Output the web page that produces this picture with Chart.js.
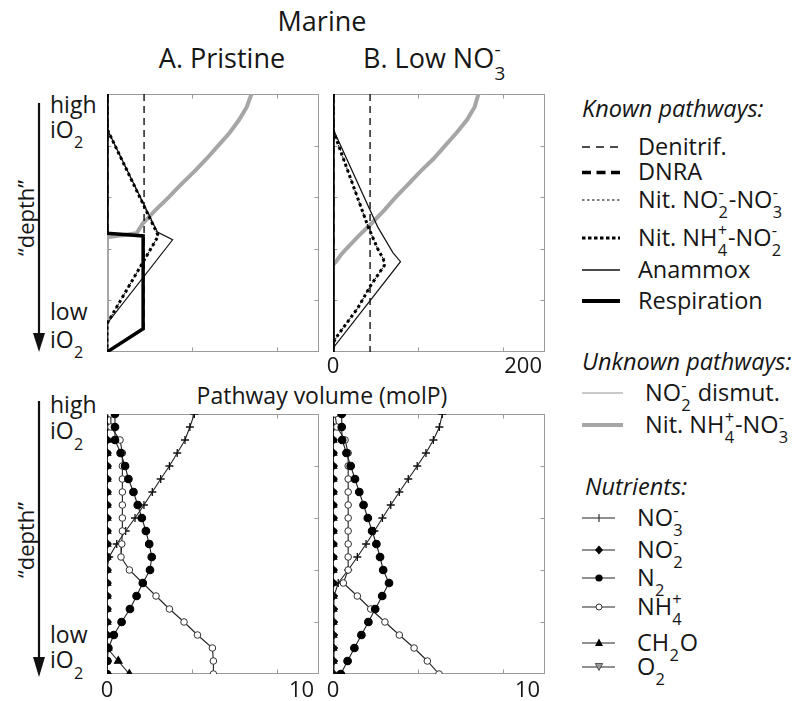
<!DOCTYPE html>
<html>
<head>
<meta charset="utf-8">
<title>Marine</title>
<script src="https://cdn.jsdelivr.net/npm/chart.js@4.4.1/dist/chart.umd.min.js"></script>
<style>
  html, body { margin: 0; padding: 0; background: #fff; }
  body { position: relative; width: 803px; height: 701px; overflow: hidden;
         font-family: "Open Sans", "DejaVu Sans", sans-serif; color: #161616; }
  .t { position: absolute; white-space: nowrap; line-height: 1; }
  .lg { font-size: 23.5px; }
  .hd { font-size: 23.5px; font-style: italic; }
  .ax { font-size: 23px; left: 50px; }
  .c { position: relative; display: inline-block; width: 0.45em; }
  .c i { position: absolute; left: 0.02em; font-style: normal; font-size: 0.7em; line-height: 1; }
  .c i.p { top: -1.45em; }
  .c i.b { top: -0.2em; }
  canvas { position: absolute; }
  svg { position: absolute; left: 0; top: 0; }
</style>
</head>
<body>

<svg width="803" height="701">
  <!-- depth arrows -->
  <line x1="39" y1="103" x2="39" y2="336" stroke="#111" stroke-width="2.2"/>
  <polygon points="33,333 45,333 39,352" fill="#111"/>
  <line x1="39" y1="401" x2="39" y2="660" stroke="#111" stroke-width="2.2"/>
  <polygon points="33,657 45,657 39,677" fill="#111"/>

  <!-- legend samples: known pathways -->
  <line x1="582" y1="147" x2="620" y2="147" stroke="#111" stroke-width="1.4" stroke-dasharray="8 6"/>
  <line x1="582" y1="172.5" x2="620" y2="172.5" stroke="#000" stroke-width="3.5" stroke-dasharray="9 5.5"/>
  <line x1="582" y1="200" x2="620" y2="200" stroke="#000" stroke-width="1" stroke-dasharray="2.5 2.5"/>
  <line x1="582" y1="238" x2="620" y2="238" stroke="#000" stroke-width="3" stroke-dasharray="3.5 2.5"/>
  <line x1="582" y1="270" x2="620" y2="270" stroke="#111" stroke-width="1.3"/>
  <line x1="582" y1="301" x2="620" y2="301" stroke="#000" stroke-width="4"/>
  <!-- unknown pathways -->
  <line x1="582" y1="393" x2="623" y2="393" stroke="#b8b8b8" stroke-width="1.4"/>
  <line x1="582" y1="425" x2="623" y2="425" stroke="#a6a6a6" stroke-width="4"/>
  <!-- nutrients -->
  <g stroke="#222" stroke-width="1.1">
    <line x1="582" y1="518" x2="615" y2="518"/>
    <line x1="599" y1="514" x2="599" y2="522"/>
    <line x1="582" y1="550" x2="615" y2="550"/>
    <line x1="582" y1="578" x2="615" y2="578"/>
    <line x1="582" y1="607" x2="615" y2="607"/>
    <line x1="582" y1="643" x2="615" y2="643"/>
    <line x1="582" y1="667" x2="615" y2="667"/>
  </g>
  <polygon points="599,545.5 603,550 599,554.5 595,550" fill="#000"/>
  <circle cx="599" cy="578" r="3.6" fill="#000"/>
  <circle cx="599" cy="607" r="3" fill="#fff" stroke="#333" stroke-width="1"/>
  <polygon points="599,638.5 603,646 595,646" fill="#000"/>
  <polygon points="595.3,663.5 602.7,663.5 599,670.5" fill="#9a9a9a" stroke="#333" stroke-width="0.8"/>
</svg>

<!-- titles -->
<div class="t" style="left:322px;top:7px;font-size:27px;transform:translateX(-50%)">Marine</div>
<div class="t" style="left:222px;top:43.5px;font-size:27px;transform:translateX(-50%)">A. Pristine</div>
<div class="t" style="left:363px;top:43.5px;font-size:27px">B. Low NO<span class="c"><i class="p">-</i><i class="b">3</i></span></div>
<div class="t" style="left:322px;top:384px;font-size:23px;transform:translateX(-50%)">Pathway volume (molP)</div>

<!-- depth annotations -->
<div class="t ax" style="top:92.6px">high</div>
<div class="t ax" style="top:117.6px">iO<span class="c"><i class="b">2</i></span></div>
<div class="t ax" style="top:299.6px">low</div>
<div class="t ax" style="top:327.6px">iO<span class="c"><i class="b">2</i></span></div>
<div class="t" style="left:25px;top:218px;font-size:22px;transform:translate(-50%,-50%) rotate(-90deg)">&ldquo;depth&rdquo;</div>

<div class="t ax" style="top:393px">high</div>
<div class="t ax" style="top:419px">iO<span class="c"><i class="b">2</i></span></div>
<div class="t ax" style="top:623px">low</div>
<div class="t ax" style="top:648px">iO<span class="c"><i class="b">2</i></span></div>
<div class="t" style="left:25px;top:540px;font-size:22px;transform:translate(-50%,-50%) rotate(-90deg)">&ldquo;depth&rdquo;</div>

<!-- legend text -->
<div class="t hd" style="left:582px;top:96.5px">Known pathways:</div>
<div class="t lg" style="left:638px;top:134.5px">Denitrif.</div>
<div class="t lg" style="left:638px;top:160px">DNRA</div>
<div class="t lg" style="left:638px;top:187.5px">Nit. NO<span class="c"><i class="p">-</i><i class="b">2</i></span>-NO<span class="c"><i class="p">-</i><i class="b">3</i></span></div>
<div class="t lg" style="left:638px;top:225.5px">Nit. NH<span class="c"><i class="p">+</i><i class="b">4</i></span>-NO<span class="c"><i class="p">-</i><i class="b">2</i></span></div>
<div class="t lg" style="left:638px;top:257.5px">Anammox</div>
<div class="t lg" style="left:638px;top:288.5px">Respiration</div>

<div class="t hd" style="left:582px;top:349.5px">Unknown pathways:</div>
<div class="t lg" style="left:645px;top:380.5px">NO<span class="c"><i class="p">-</i><i class="b">2</i></span> dismut.</div>
<div class="t lg" style="left:645px;top:412.5px">Nit. NH<span class="c"><i class="p">+</i><i class="b">4</i></span>-NO<span class="c"><i class="p">-</i><i class="b">3</i></span></div>

<div class="t hd" style="left:585px;top:474.5px">Nutrients:</div>
<div class="t lg" style="left:637px;top:505.5px">NO<span class="c"><i class="p">-</i><i class="b">3</i></span></div>
<div class="t lg" style="left:637px;top:537.5px">NO<span class="c"><i class="p">-</i><i class="b">2</i></span></div>
<div class="t lg" style="left:637px;top:565.5px">N<span class="c"><i class="b">2</i></span></div>
<div class="t lg" style="left:637px;top:594.5px">NH<span class="c"><i class="p">+</i><i class="b">4</i></span></div>
<div class="t lg" style="left:637px;top:630.5px">CH<span class="c"><i class="b">2</i></span>O</div>
<div class="t lg" style="left:637px;top:654.5px">O<span class="c"><i class="b">2</i></span></div>

<canvas id="pA"></canvas>
<canvas id="pB"></canvas>
<canvas id="nA"></canvas>
<canvas id="nB"></canvas>

<script>
// ---- depth axis (0 = high iO2, 20 = low iO2) ----
const depthLevels = [0,1,2,3,4,5,6,7,8,9,10,11,12,13,14,15,16,17,18,19,20];
const depthTicks = [4, 8, 12, 16];

// ---- x-axis tick labels ----
const pathwayTickVals = [0, 200];
const pathwayTickText = ['0', '200'];
const nutrientTickVals = [0, 10];
const nutrientTickText = ['0', '10'];

// ---- A. Pristine: pathway volume profiles (volume, depth) ----
const aRespVol = [0, 0, 38, 38, 0];
const aRespDepth = [0, 10.8, 11.0, 18.2, 20];
const aNitNH4NO2Vol = [0, 0, 54, 0, 0];
const aNitNH4NO2Depth = [0, 2.7, 11, 17.8, 20];
const aNitNO2NO3Vol = [0, 0, 54, 0, 0];
const aNitNO2NO3Depth = [0, 2.7, 11, 17.8, 20];
const aAnammoxVol = [0, 0, 53, 69, 0, 0];
const aAnammoxDepth = [0, 2.7, 10.7, 11.3, 17.8, 20];
const aDenitrifVol = [39, 39, 0];
const aDenitrifDepth = [0, 18.2, 20];
const aNitNH4NO3Vol = [152, 147, 139, 129, 117, 105, 92, 78, 65, 51, 38, 31, 0, 0];
const aNitNH4NO3Depth = [0, 1, 2, 3, 4, 5, 6, 7, 8, 9, 10, 10.8, 11.1, 20];
const aDismutVol = [0, 0];
const aDismutDepth = [0, 20];
const aDNRAVol = [0, 0];
const aDNRADepth = [0, 20];

// ---- B. Low NO3-: pathway volume profiles ----
const bRespVol = [0, 0];
const bRespDepth = [0, 20];
const bNitNH4NO2Vol = [0, 0, 37, 47, 53, 54, 40, 26, 5, 0, 0];
const bNitNH4NO2Depth = [0, 2.8, 10.3, 12, 12.8, 13.3, 14.8, 16.6, 18.7, 19.3, 20];
const bNitNO2NO3Vol = [0, 0, 37, 47, 53, 54, 40, 26, 5, 0, 0];
const bNitNO2NO3Depth = [0, 2.8, 10.3, 12, 12.8, 13.3, 14.8, 16.6, 18.7, 19.3, 20];
const bAnammoxVol = [0, 0, 47, 63, 71, 0, 0];
const bAnammoxDepth = [0, 2.7, 10.3, 12.3, 13, 19.7, 20];
const bDenitrifVol = [39, 39];
const bDenitrifDepth = [0, 20];
const bNitNH4NO3Vol = [153, 149, 141, 130, 118, 106, 92, 79, 66, 54, 41, 27, 14, 8, 3, 0, 0];
const bNitNH4NO3Depth = [0, 1, 2, 3, 4, 5, 6, 7, 8, 9, 10, 11, 12, 12.5, 13, 13.25, 20];
const bDismutVol = [0, 0];
const bDismutDepth = [0, 20];
const bDNRAVol = [0, 0];
const bDNRADepth = [0, 20];

// ---- nutrient profiles at each depth level ----
const aNO3  = [4.49, 4.26, 4.01, 3.61, 3.21, 2.76, 2.33, 1.90, 1.44, 0.96, 0.50, 0.11, 0, 0, 0, 0, 0, 0, 0, 0, 0];
const aNO2  = [0, 0, 0, 0, 0, 0, 0, 0, 0, 0, 0, 0, 0, 0, 0, 0, 0, 0, 0, 0, 0];
const aN2   = [0.41, 0.41, 0.41, 0.70, 0.93, 1.10, 1.36, 1.58, 1.79, 2.00, 2.17, 2.30, 2.21, 1.84, 1.52, 1.18, 0.75, 0.35, 0.07, 0.02, 0];
const aNH4  = [0.20, 0.20, 0.67, 0.79, 0.79, 0.79, 0.79, 0.79, 0.79, 0.79, 0.76, 0.72, 1.15, 1.84, 2.52, 3.21, 3.96, 4.65, 5.42, 5.47, 5.47];
const aCH2O = [0, 0, 0, 0, 0, 0, 0, 0, 0, 0, 0, 0, 0, 0, 0, 0, 0, 0, 0.05, 0.58, 1.15];
const aO2   = [0, 0, 0, 0, 0, 0, 0, 0, 0, 0, 0, 0, 0, 0, 0, 0, 0, 0, 0, 0, 0];

const bNO3  = [5.62, 5.47, 5.16, 4.78, 4.33, 3.87, 3.41, 2.97, 2.54, 2.13, 1.70, 1.25, 0.78, 0.27, 0.05, 0.05, 0.05, 0.05, 0.05, 0.05, 0.05];
const bNO2  = [0, 0, 0, 0, 0, 0, 0, 0, 0, 0, 0, 0, 0, 0, 0, 0, 0, 0, 0, 0, 0];
const bN2   = [0.45, 0.45, 0.47, 0.69, 0.91, 1.13, 1.35, 1.57, 1.79, 2.01, 2.23, 2.42, 2.58, 2.88, 2.53, 2.17, 1.82, 1.46, 1.10, 0.75, 0.40];
const bNH4  = [0.10, 0.20, 0.62, 0.78, 0.78, 0.78, 0.78, 0.78, 0.78, 0.78, 0.78, 0.78, 0.78, 0.53, 1.25, 1.94, 2.67, 3.41, 4.17, 4.85, 5.45];
const bCH2O = [0, 0, 0, 0, 0, 0, 0, 0, 0, 0, 0, 0, 0, 0, 0, 0, 0, 0, 0, 0, 0];
const bO2   = [0, 0, 0, 0, 0, 0, 0, 0, 0, 0, 0, 0, 0, 0, 0, 0, 0, 0, 0, 0, 0];

// ---- styles ----
const pathStyle = {
  resp:    { borderColor: '#000', borderWidth: 3.5 },
  nh4no2:  { borderColor: '#000', borderWidth: 3, borderDash: [3, 3] },
  no2no3:  { borderColor: '#000', borderWidth: 1, borderDash: [2, 2] },
  anammox: { borderColor: '#111', borderWidth: 1.2 },
  denit:   { borderColor: '#111', borderWidth: 1.4, borderDash: [7, 5] },
  nh4no3:  { borderColor: '#a6a6a6', borderWidth: 4 },
  dismut:  { borderColor: '#bdbdbd', borderWidth: 1.2 },
  dnra:    { borderColor: '#000', borderWidth: 3, borderDash: [8, 5] }
};
const nutStyle = {
  n2:   { pointStyle: 'circle', pointRadius: 3.8, pointBackgroundColor: '#000', pointBorderColor: '#000' },
  nh4:  { pointStyle: 'circle', pointRadius: 3.3, pointBackgroundColor: '#fff', pointBorderColor: '#333', pointBorderWidth: 1 },
  no3:  { pointStyle: 'cross', pointRadius: 4, pointBorderColor: '#111', pointBorderWidth: 1.3 },
  no2:  { pointStyle: 'rectRot', pointRadius: 4.2, pointBackgroundColor: '#000', pointBorderColor: '#000' },
  ch2o: { pointStyle: 'triangle', pointRadius: 4.4, pointBackgroundColor: '#000', pointBorderColor: '#000' },
  o2:   { pointStyle: 'triangle', pointRotation: 180, pointRadius: 4, pointBackgroundColor: '#8a8a8a', pointBorderColor: '#222', pointBorderWidth: 0.8 }
};

function pts(vol, depth) { return vol.map((v, i) => ({ x: v, y: depth[i] })); }

function pathLine(label, vol, depth, style) {
  return Object.assign({ label, data: pts(vol, depth), pointRadius: 0, fill: false, tension: 0 }, style);
}
function nutLine(label, vals, style) {
  return Object.assign({ label, data: pts(vals, depthLevels), borderColor: '#222', borderWidth: 1.1, fill: false, tension: 0 }, style);
}

// box, inner tick marks and bottom tick labels
const framePlugin = {
  id: 'frame',
  beforeDatasetsDraw(chart, args, o) {
    const { ctx, chartArea: a, scales: { y } } = chart;
    const L = a.left + 0.5, R = a.right - 0.5, T = a.top + 0.5, B = a.bottom - 0.5;
    ctx.save();
    ctx.strokeStyle = '#9a9a9a';
    ctx.lineWidth = 1;
    ctx.strokeRect(L, T, R - L, B - T);
    ctx.beginPath();
    o.xTickFractions.forEach(f => {
      const px = Math.round(chart.scales.x.getPixelForDecimal(f)) + 0.5;
      ctx.moveTo(px, T); ctx.lineTo(px, T + 4);
      ctx.moveTo(px, B); ctx.lineTo(px, B - 4);
    });
    o.yTicks.forEach(v => {
      const py = Math.round(y.getPixelForValue(v)) + 0.5;
      ctx.moveTo(R, py); ctx.lineTo(R - 4, py);
      ctx.moveTo(L, py); ctx.lineTo(L + 4, py);
    });
    ctx.stroke();
    ctx.restore();
  },
  afterDraw(chart, args, o) {
    if (!o.labelVals) return;
    const { ctx, chartArea: a, scales: { x } } = chart;
    ctx.save();
    ctx.fillStyle = '#161616';
    ctx.font = '22px "Open Sans", sans-serif';
    ctx.textAlign = 'center';
    ctx.textBaseline = 'alphabetic';
    o.labelVals.forEach((v, i) => {
      ctx.fillText(o.labelTexts[i], x.getPixelForValue(v), a.bottom + o.labelGap);
    });
    ctx.restore();
  }
};

function makePanel(id, box, xMax, datasets, labelVals, labelTexts, labelGap) {
  const pad = { left: 14, top: 8, right: 14, bottom: 34 };
  const cv = document.getElementById(id);
  cv.width = box.w + pad.left + pad.right;
  cv.height = box.h + pad.top + pad.bottom;
  cv.style.left = (box.x - pad.left) + 'px';
  cv.style.top = (box.y - pad.top) + 'px';
  return new Chart(cv, {
    type: 'line',
    data: { datasets },
    options: {
      responsive: false,
      animation: false,
      events: [],
      layout: { padding: pad },
      plugins: {
        legend: { display: false },
        tooltip: { enabled: false },
        frame: { xTickFractions: [0.4, 0.8], yTicks: depthTicks, labelVals, labelTexts, labelGap }
      },
      scales: {
        x: { type: 'linear', min: 0, max: xMax, display: false },
        y: { type: 'linear', min: 0, max: 20, reverse: true, display: false }
      }
    },
    plugins: [framePlugin]
  });
}

const pathwayMax = 223;
const nutrientMax = 10.9;

// datasets listed top-most first (Chart.js draws the last one first)
makePanel('pA', { x: 107, y: 94, w: 212, h: 258 }, pathwayMax, [
  pathLine('Respiration', aRespVol, aRespDepth, pathStyle.resp),
  pathLine('Nit. NH4+-NO2-', aNitNH4NO2Vol, aNitNH4NO2Depth, pathStyle.nh4no2),
  pathLine('Nit. NO2--NO3-', aNitNO2NO3Vol, aNitNO2NO3Depth, pathStyle.no2no3),
  pathLine('Anammox', aAnammoxVol, aAnammoxDepth, pathStyle.anammox),
  pathLine('Denitrif.', aDenitrifVol, aDenitrifDepth, pathStyle.denit),
  pathLine('Nit. NH4+-NO3-', aNitNH4NO3Vol, aNitNH4NO3Depth, pathStyle.nh4no3),
  pathLine('NO2- dismut.', aDismutVol, aDismutDepth, pathStyle.dismut),
  pathLine('DNRA', aDNRAVol, aDNRADepth, pathStyle.dnra)
], null, null, 0);

makePanel('pB', { x: 333, y: 94, w: 212, h: 258 }, pathwayMax, [
  pathLine('Respiration', bRespVol, bRespDepth, pathStyle.resp),
  pathLine('Nit. NH4+-NO2-', bNitNH4NO2Vol, bNitNH4NO2Depth, pathStyle.nh4no2),
  pathLine('Nit. NO2--NO3-', bNitNO2NO3Vol, bNitNO2NO3Depth, pathStyle.no2no3),
  pathLine('Anammox', bAnammoxVol, bAnammoxDepth, pathStyle.anammox),
  pathLine('Denitrif.', bDenitrifVol, bDenitrifDepth, pathStyle.denit),
  pathLine('Nit. NH4+-NO3-', bNitNH4NO3Vol, bNitNH4NO3Depth, pathStyle.nh4no3),
  pathLine('NO2- dismut.', bDismutVol, bDismutDepth, pathStyle.dismut),
  pathLine('DNRA', bDNRAVol, bDNRADepth, pathStyle.dnra)
], pathwayTickVals, pathwayTickText, 21);

makePanel('nA', { x: 107, y: 414, w: 212, h: 260 }, nutrientMax, [
  nutLine('N2', aN2, nutStyle.n2),
  nutLine('NH4+', aNH4, nutStyle.nh4),
  nutLine('NO3-', aNO3, nutStyle.no3),
  nutLine('NO2-', aNO2, nutStyle.no2),
  nutLine('CH2O', aCH2O, nutStyle.ch2o),
  nutLine('O2', aO2, nutStyle.o2)
], nutrientTickVals, nutrientTickText, 23);

makePanel('nB', { x: 333, y: 414, w: 212, h: 260 }, nutrientMax, [
  nutLine('N2', bN2, nutStyle.n2),
  nutLine('NH4+', bNH4, nutStyle.nh4),
  nutLine('NO3-', bNO3, nutStyle.no3),
  nutLine('NO2-', bNO2, nutStyle.no2),
  nutLine('CH2O', bCH2O, nutStyle.ch2o),
  nutLine('O2', bO2, nutStyle.o2)
], nutrientTickVals, nutrientTickText, 23);
</script>
</body>
</html>
